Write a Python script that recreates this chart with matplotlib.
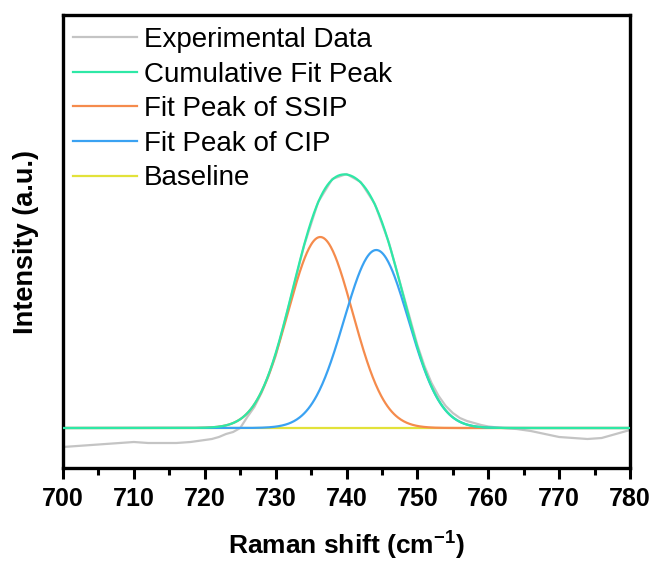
import numpy as np
import matplotlib
matplotlib.use("Agg")
import matplotlib.pyplot as plt

plt.rcParams['font.family'] = ['Liberation Sans', 'DejaVu Sans']
plt.rcParams['mathtext.fontset'] = 'custom'
plt.rcParams['mathtext.bf'] = 'Liberation Sans:bold'
plt.rcParams['mathtext.rm'] = 'Liberation Sans'

# Experimental data (relative to baseline, a.u.)
exp_x = [700, 702, 704, 706, 708, 710, 712, 714, 716, 718, 720, 721, 722, 723,
         724, 725, 726, 727, 728, 729, 730, 732, 734, 736, 738, 740, 742, 744,
         746, 748, 750, 751, 752, 753, 754, 755, 756, 757, 758, 759, 760, 762,
         764, 766, 768, 770, 772, 774, 776, 778, 780]
exp_y = [-19, -18, -17, -16, -15, -14, -15, -15, -15, -14, -12, -11, -9, -6,
         -4, 0, 11, 21, 35, 52, 72, 126, 182, 226, 249, 254, 246, 224,
         185, 134, 83, 62, 45, 32, 22, 15, 10, 7, 5, 3, 1.5, 0,
         -1, -3, -6, -9, -10, -11, -10, -6, -2]

# Fitted Gaussian peak parameters
ssip_center, ssip_amp, ssip_sigma = 736.3, 191.0, 4.55
cip_center, cip_amp, cip_sigma = 744.2, 178.0, 4.55
baseline_level = 0.0

xticks = [700, 710, 720, 730, 740, 750, 760, 770, 780]

x = np.linspace(700, 780, 801)
ssip = baseline_level + ssip_amp * np.exp(-(x - ssip_center) ** 2 / (2 * ssip_sigma ** 2))
cip = baseline_level + cip_amp * np.exp(-(x - cip_center) ** 2 / (2 * cip_sigma ** 2))
cum = ssip + cip - baseline_level
base = np.full_like(x, baseline_level)

fig = plt.figure(figsize=(6.55, 5.7), dpi=100)
ax = fig.add_axes([63 / 655, 1 - 468 / 570, (630 - 63) / 655, (468 - 15) / 570])

lw = 1.6
ax.plot(exp_x, exp_y, color='#c4c4c4', lw=lw, label='Experimental Data', zorder=2)
ax.plot(x, cum, color='#2ee8a6', lw=lw, label='Cumulative Fit Peak', zorder=3)
ax.plot(x, ssip, color='#f58b4c', lw=lw, label='Fit Peak of SSIP', zorder=2.5)
ax.plot(x, cip, color='#3aa2f2', lw=lw, label='Fit Peak of CIP', zorder=2.5)
ax.plot(x, base, color='#e2e23a', lw=lw, label='Baseline', zorder=1.5)

ax.set_xlim(700, 780)
ax.set_ylim(-40, 413)
ax.set_xticks(xticks)
ax.set_xticklabels([str(t) for t in xticks], fontsize=18, fontweight='bold')
ax.set_xticks(np.arange(705, 780, 10), minor=True)
ax.set_yticks([])
ax.tick_params(axis='x', which='major', direction='out', length=8, width=2.2, pad=6)
ax.tick_params(axis='x', which='minor', direction='out', length=5, width=2.2)
for s in ax.spines.values():
    s.set_linewidth(2.4)

ax.set_xlabel('Raman shift (cm$^{\\mathbf{-1}}$)', fontsize=19, fontweight='bold', labelpad=12)
ax.set_ylabel('Intensity (a.u.)', fontsize=19.5, fontweight='bold', labelpad=17)

leg = ax.legend(loc='upper left', frameon=False, fontsize=20, handlelength=2.3,
                handletextpad=0.25, labelspacing=0.31, borderaxespad=0.0,
                borderpad=0.3, bbox_to_anchor=(0.003, 0.992))

fig.savefig('out.png', dpi=100)
